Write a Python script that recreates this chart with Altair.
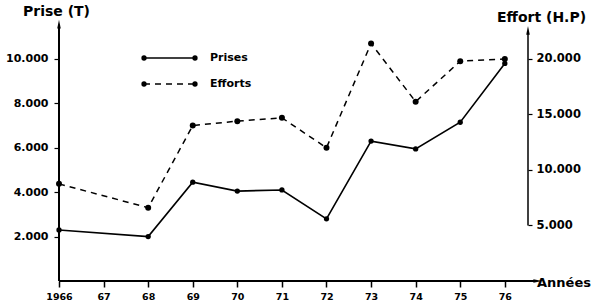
import altair as alt
import pandas as pd

years = [1966, 1968, 1969, 1970, 1971, 1972, 1973, 1974, 1975, 1976]
prises = [2300, 2000, 4450, 4050, 4100, 2800, 6300, 5950, 7150, 9800]
efforts = [8750, 6600, 14000, 14400, 14700, 12000, 21400, 16150, 19800, 20000]
x_ticks = [1966, 1967, 1968, 1969, 1970, 1971, 1972, 1973, 1974, 1975, 1976]
left_ticks = [2000, 4000, 6000, 8000, 10000]
right_ticks = [5000, 10000, 15000, 20000]

df = pd.DataFrame({"annee": years, "prises": prises, "efforts": efforts})

W, H = 469, 256
XMIN, XMAX = 1966, 1976.52
LMAX = 11530
RMAX = 23060
FONT = "DejaVu Sans"

xs = alt.Scale(domain=[XMIN, XMAX], nice=False, zero=False)
ls = alt.Scale(domain=[0, LMAX], nice=False)
rs = alt.Scale(domain=[0, RMAX], nice=False)

fmt = "replace(format(datum.value, ','), ',', '.')"

x_enc = alt.X("annee:Q", scale=xs, axis=alt.Axis(
    values=x_ticks, domain=False, grid=False, title=None, tickSize=6, tickColor="black",
    tickWidth=1.5, labelPadding=4, labelFont=FONT, labelFontWeight="bold", labelFontSize=9.5,
    labelColor="black", labelFlush=False, labelOverlap=False,
    labelExpr="datum.value == 1966 ? '1966' : format(datum.value % 100, 'd')"))

base = alt.Chart(df)

prise_line = base.mark_line(color="black", strokeWidth=1.6).encode(
    x=x_enc,
    y=alt.Y("prises:Q", scale=ls, axis=alt.Axis(
        values=left_ticks, domain=False, grid=False, title=None, tickSize=5,
        tickColor="black", tickWidth=1.2, labelPadding=6, labelFont=FONT, labelFlush=False,
        labelFontWeight="bold", labelFontSize=11, labelColor="black", labelExpr=fmt)))
prise_pts = base.mark_circle(color="black", size=28, opacity=1).encode(
    x=alt.X("annee:Q", scale=xs), y=alt.Y("prises:Q", scale=ls))

axes_df = alt.Data(values=[{"x0": XMIN, "x1": 1976.72, "y0": 0, "y1": LMAX}])
left_rule = alt.Chart(axes_df).mark_rule(color="black", strokeWidth=2).encode(
    x=alt.X("x0:Q", scale=xs), y=alt.Y("y0:Q", scale=ls), y2="y1:Q")
x_rule = alt.Chart(axes_df).mark_rule(color="black", strokeWidth=2).encode(
    x=alt.X("x0:Q", scale=xs), x2="x1:Q", y=alt.Y("y0:Q", scale=ls))
left_arrow = alt.Chart(axes_df).mark_point(shape="M-0.5,1L0,-1.5L0.5,1Z", filled=True,
                                            color="black", size=50, opacity=1).encode(
    x=alt.X("x0:Q", scale=xs), y=alt.Y("y1:Q", scale=ls))
x_arrow = alt.Chart(axes_df).mark_point(shape="M-1,-0.5L1.5,0L-1,0.5Z", filled=True,
                                         color="black", size=50, opacity=1).encode(
    x=alt.X("x1:Q", scale=xs), y=alt.Y("y0:Q", scale=ls))

layer_a = alt.layer(prise_line, prise_pts, left_rule, x_rule, left_arrow, x_arrow)

effort_line = base.mark_line(color="black", strokeWidth=1.5, strokeDash=[6, 5]).encode(
    x=alt.X("annee:Q", scale=xs),
    y=alt.Y("efforts:Q", scale=rs, axis=alt.Axis(
        orient="right", values=right_ticks, domain=False, grid=False, title=None,
        tickSize=4, tickColor="black", tickWidth=1.2, labelPadding=4, labelFont=FONT,
        labelFlush=False,
        labelFontWeight="bold", labelFontSize=11.5, labelColor="black", labelExpr=fmt)))
effort_pts = base.mark_circle(color="black", size=36, opacity=1).encode(
    x=alt.X("annee:Q", scale=xs), y=alt.Y("efforts:Q", scale=rs))

raxis_df = alt.Data(values=[{"x0": XMAX, "y0": 5000, "y1": 22500}])
right_rule = alt.Chart(raxis_df).mark_rule(color="black", strokeWidth=1.5).encode(
    x=alt.X("x0:Q", scale=xs), y=alt.Y("y0:Q", scale=rs), y2="y1:Q")
right_arrow = alt.Chart(raxis_df).mark_point(shape="M-0.5,1L0,-1.5L0.5,1Z", filled=True,
                                              color="black", size=50, opacity=1).encode(
    x=alt.X("x0:Q", scale=xs), y=alt.Y("y1:Q", scale=rs))

layer_b = alt.layer(effort_line, effort_pts, right_rule, right_arrow)

one = alt.Data(values=[{"k": 1}])
def lab(txt, x, y, size=13):
    return alt.Chart(one).mark_text(text=txt, font=FONT, fontWeight="bold", fontSize=size,
                                    align="left", baseline="middle", color="black").encode(
        x=alt.value(x), y=alt.value(y))

leg = []
for yy, dash, name in [(33, [], "Prises"), (59, [6, 5], "Efforts")]:
    rule_kw = {"strokeDash": dash} if dash else {}
    leg.append(alt.Chart(one).mark_rule(color="black", strokeWidth=1.5, **rule_kw).encode(
        x=alt.value(85), x2=alt.value(136), y=alt.value(yy)))
    for xx in (85, 136):
        leg.append(alt.Chart(one).mark_circle(color="black", size=28, opacity=1).encode(
            x=alt.value(xx), y=alt.value(yy)))
    leg.append(lab(name, 151, yy, 11))

titles = [lab("Prise (T)", -36, -13, 14), lab("Effort (H.P)", 438, -7, 14),
          lab("Années", 478, 258, 13)]

chart = alt.layer(layer_a, layer_b, *leg, *titles).resolve_scale(y="independent").properties(
    width=W, height=H,
    autosize=alt.AutoSizeParams(type="none"),
    padding={"left": 59, "top": 25, "right": 599 - 59 - W, "bottom": 307 - 25 - H},
    background="white",
).configure_view(stroke=None)

chart.save("out.html", embed_options={"renderer": "svg", "actions": False})
